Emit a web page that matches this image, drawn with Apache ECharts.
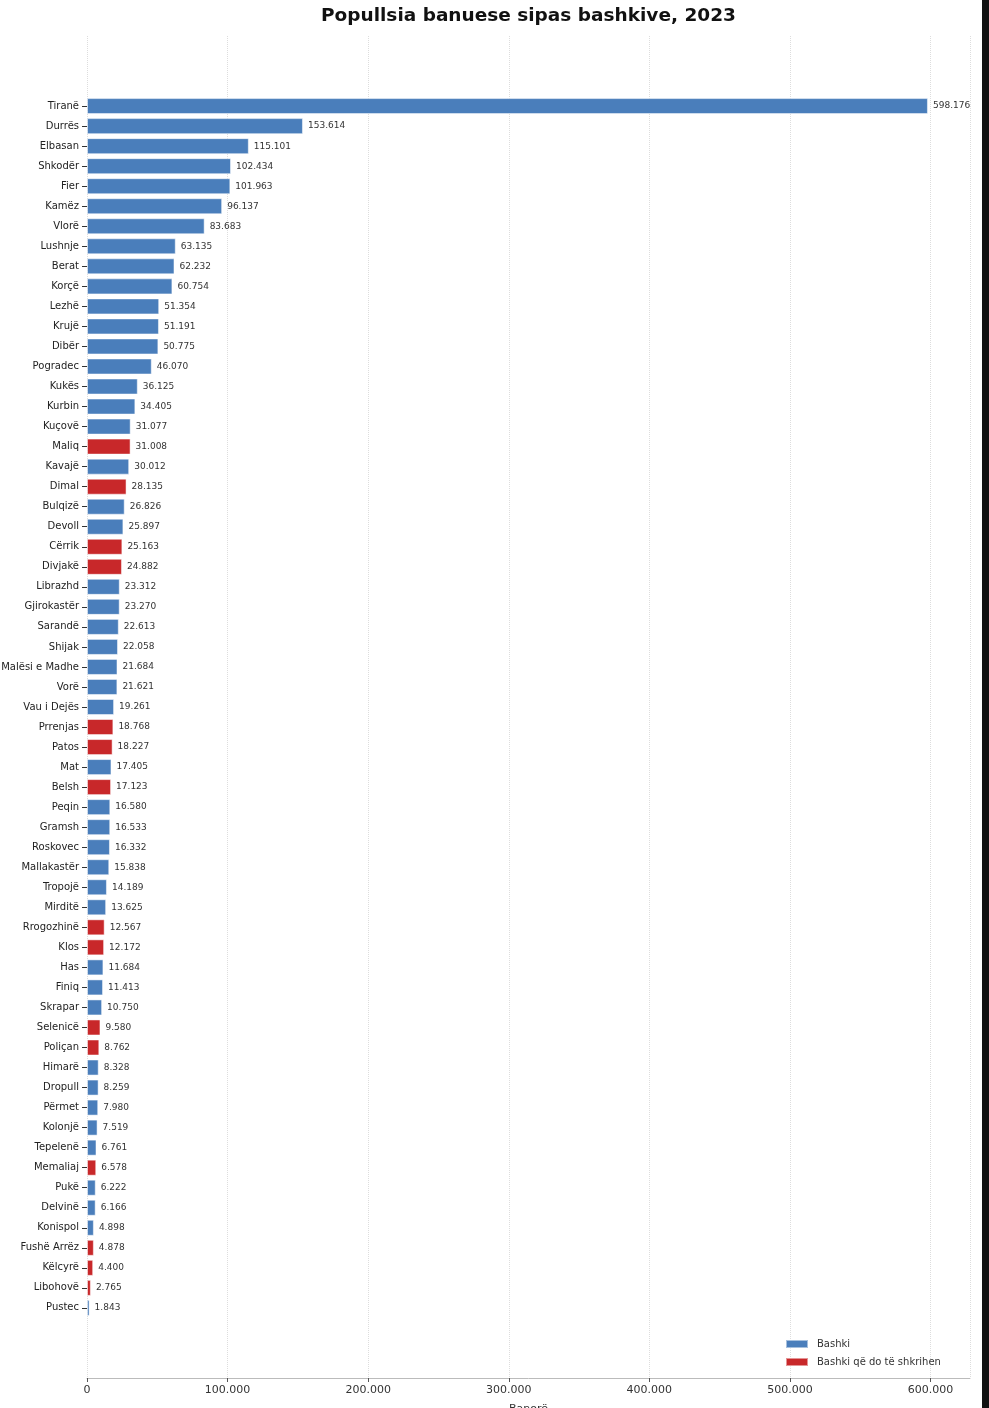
<!DOCTYPE html>
<html>
<head>
<meta charset="utf-8">
<script src="https://cdn.jsdelivr.net/npm/echarts@6/dist/echarts.min.js"></script>
<style>
  html, body { margin: 0; padding: 0; background: #fff; }
  #main { width: 989px; height: 1408px; }
</style>
</head>
<body>
<div id="main"></div>
<script>
// bashkite, nga me e madhja te me e vogla
var bashkite = ['Tiranë', 'Durrës', 'Elbasan', 'Shkodër', 'Fier', 'Kamëz', 'Vlorë', 'Lushnje', 'Berat', 'Korçë',
    'Lezhë', 'Krujë', 'Dibër', 'Pogradec', 'Kukës', 'Kurbin', 'Kuçovë', 'Maliq', 'Kavajë', 'Dimal',
    'Bulqizë', 'Devoll', 'Cërrik', 'Divjakë', 'Librazhd', 'Gjirokastër', 'Sarandë', 'Shijak', 'Malësi e Madhe', 'Vorë',
    'Vau i Dejës', 'Prrenjas', 'Patos', 'Mat', 'Belsh', 'Peqin', 'Gramsh', 'Roskovec', 'Mallakastër', 'Tropojë',
    'Mirditë', 'Rrogozhinë', 'Klos', 'Has', 'Finiq', 'Skrapar', 'Selenicë', 'Poliçan', 'Himarë', 'Dropull',
    'Përmet', 'Kolonjë', 'Tepelenë', 'Memaliaj', 'Pukë', 'Delvinë', 'Konispol', 'Fushë Arrëz', 'Këlcyrë', 'Libohovë',
    'Pustec'];

var banore = [598176, 153614, 115101, 102434, 101963, 96137, 83683, 63135, 62232, 60754,
    51354, 51191, 50775, 46070, 36125, 34405, 31077, 31008, 30012, 28135,
    26826, 25897, 25163, 24882, 23312, 23270, 22613, 22058, 21684, 21621,
    19261, 18768, 18227, 17405, 17123, 16580, 16533, 16332, 15838, 14189,
    13625, 12567, 12172, 11684, 11413, 10750, 9580, 8762, 8328, 8259,
    7980, 7519, 6761, 6578, 6222, 6166, 4898, 4878, 4400, 2765,
    1843];

// bashkite qe do te shkrihen
var shkrihen = ['Maliq', 'Dimal', 'Cërrik', 'Divjakë', 'Prrenjas', 'Patos', 'Belsh', 'Rrogozhinë', 'Klos',
    'Selenicë', 'Poliçan', 'Memaliaj', 'Fushë Arrëz', 'Këlcyrë', 'Libohovë'];

var xTicks = [0, 100000, 200000, 300000, 400000, 500000, 600000];

var ngjyraBlu = '#4a7ebb';
var ngjyraKuqe = '#c8282a';

function formatoNumrin(v) {
    return String(v).replace(/\B(?=(\d{3})+(?!\d))/g, '.');
}

// hapesire bosh lart dhe poshte, si ne grafikun origjinal
var bosh = [' ', '  ', '   '];
var bosh2 = ['    ', '     ', '      '];
var kategorite = bosh.concat(bashkite).concat(bosh2);

var dataBlu = bosh.map(function () { return '-'; });
var dataKuqe = bosh.map(function () { return '-'; });
for (var i = 0; i < bashkite.length; i++) {
    if (shkrihen.indexOf(bashkite[i]) >= 0) {
        dataBlu.push('-');
        dataKuqe.push(banore[i]);
    } else {
        dataBlu.push(banore[i]);
        dataKuqe.push('-');
    }
}
bosh2.forEach(function () { dataBlu.push('-'); dataKuqe.push('-'); });

var etiketa = {
    show: true,
    position: 'right',
    distance: 5,
    fontSize: 9,
    fontFamily: 'DejaVu Sans',
    color: '#333',
    formatter: function (p) { return formatoNumrin(p.value); }
};

var myChart = echarts.init(document.getElementById('main'));

var option = {
    backgroundColor: '#fff',
    animation: false,
    title: {
        text: 'Popullsia banuese sipas bashkive, 2023',
        left: 316,
        top: 2,
        textStyle: { fontFamily: 'DejaVu Sans', fontWeight: 'bold', fontSize: 18.5, color: '#111' }
    },
    legend: {
        orient: 'vertical',
        left: 780,
        top: 1334,
        itemWidth: 22,
        itemHeight: 8,
        itemGap: 8,
        icon: 'rect',
        textStyle: { fontFamily: 'DejaVu Sans', fontSize: 10, color: '#333', padding: [0, 0, 0, 4] },
        data: ['Bashki', 'Bashki që do të shkrihen']
    },
    grid: { left: 87, right: 19, top: 36, bottom: 30, containLabel: false, outerBoundsMode: 'none' },
    xAxis: {
        type: 'value',
        min: 0,
        max: 628085,
        interval: xTicks[1] - xTicks[0],
        name: 'Banorë',
        nameLocation: 'middle',
        nameGap: 26,
        nameTextStyle: { fontFamily: 'DejaVu Sans', fontSize: 11, color: '#333' },
        axisLine: { show: true, lineStyle: { color: '#bbb', width: 1 } },
        axisTick: { show: true, length: 4, lineStyle: { color: '#555' } },
        axisLabel: {
            fontFamily: 'DejaVu Sans',
            fontSize: 11,
            color: '#333',
            margin: 7,
            showMaxLabel: false,
            formatter: function (v) { return xTicks.indexOf(v) >= 0 ? formatoNumrin(v) : ''; }
        },
        splitLine: { show: true, lineStyle: { color: '#ddd', type: 'dotted', width: 1 } }
    },
    yAxis: {
        type: 'category',
        inverse: true,
        data: kategorite,
        axisLine: { show: false },
        axisTick: {
            show: true,
            length: 5,
            alignWithLabel: true,
            interval: function (idx, val) { return String(val).trim() !== ''; },
            lineStyle: { color: '#333' }
        },
        axisLabel: {
            interval: 0,
            fontFamily: 'DejaVu Sans',
            fontSize: 10,
            color: '#222',
            margin: 8
        },
        splitLine: { show: false }
    },
    series: [
        {
            name: 'Bashki',
            type: 'bar',
            stack: 'gjithsej',
            barWidth: '80%',
            data: dataBlu,
            itemStyle: { color: ngjyraBlu, borderColor: 'rgba(255,255,255,0.5)', borderWidth: 1 },
            label: etiketa
        },
        {
            name: 'Bashki që do të shkrihen',
            type: 'bar',
            stack: 'gjithsej',
            barWidth: '80%',
            data: dataKuqe,
            itemStyle: { color: ngjyraKuqe, borderColor: 'rgba(255,255,255,0.5)', borderWidth: 1 },
            label: etiketa
        }
    ],
    graphic: [
        { type: 'rect', shape: { x: 982, y: 0, width: 7, height: 1408 }, style: { fill: '#111' }, silent: true }
    ]
};

myChart.setOption(option);
</script>
</body>
</html>
